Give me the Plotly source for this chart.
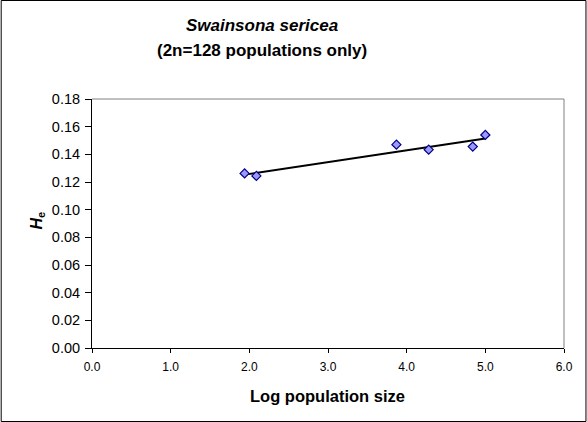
import numpy as np
import plotly.graph_objects as go

# Data
log_pop_size = [1.94, 2.09, 3.87, 4.28, 4.84, 5.00]
he_values = [0.1262, 0.1244, 0.1470, 0.1434, 0.1456, 0.1540]
x_ticks = [0, 1, 2, 3, 4, 5, 6]
x_tick_labels = ["0.0", "1.0", "2.0", "3.0", "4.0", "5.0", "6.0"]
y_ticks = [0.00, 0.02, 0.04, 0.06, 0.08, 0.10, 0.12, 0.14, 0.16, 0.18]
y_tick_labels = ["0.00", "0.02", "0.04", "0.06", "0.08", "0.10", "0.12", "0.14", "0.16", "0.18"]

W, H = 587, 422
L, R, T, B = 91.5, 22.5, 99, 74
pw, ph = W - L - R, H - T - B

# Linear trendline (least squares)
slope, intercept = np.polyfit(log_pop_size, he_values, 1)
tx = np.array([min(log_pop_size), max(log_pop_size)])
ty = slope * tx + intercept

fig = go.Figure()
fig.add_trace(go.Scatter(x=tx, y=ty, mode="lines",
                         line=dict(color="black", width=2), showlegend=False,
                         hoverinfo="skip"))
fig.add_trace(go.Scatter(x=log_pop_size, y=he_values, mode="markers",
                         marker=dict(symbol="diamond", size=7, color="#9999FF",
                                     line=dict(color="#000080", width=1.2)),
                         showlegend=False))

font = "Liberation Sans, Arial, sans-serif"

def px(xpix):
    return (xpix - L) / pw

def py(ypix):
    return 1 - (ypix - T) / ph

fig.update_layout(
    width=W, height=H,
    margin=dict(l=L, r=R, t=T, b=B, pad=0),
    paper_bgcolor="white", plot_bgcolor="white",
    font=dict(family=font, color="black"),
    xaxis=dict(range=[0, 6], tickvals=x_ticks, ticktext=x_tick_labels,
               showgrid=False, zeroline=False, showline=True, linecolor="black",
               linewidth=1, ticks="outside", ticklen=4, tickcolor="black",
               tickfont=dict(size=12, family=font), mirror=False,
               ticklabelstandoff=4),
    yaxis=dict(range=[0, 0.18], tickvals=y_ticks, ticktext=y_tick_labels,
               showgrid=False, zeroline=False, showline=True, linecolor="black",
               linewidth=1, ticks="outside", ticklen=6, tickcolor="black",
               tickfont=dict(size=14.5, family=font), ticklabelstandoff=2),
    shapes=[
        # grey plot-area border (top & right)
        dict(type="line", xref="paper", yref="paper", x0=0, x1=1, y0=1, y1=1,
             line=dict(color="#808080", width=1)),
        dict(type="line", xref="paper", yref="paper", x0=1, x1=1, y0=0, y1=1,
             line=dict(color="#808080", width=1)),
        # chart outer frame
        dict(type="rect", xref="paper", yref="paper",
             x0=px(0.5), x1=px(W - 0.5), y0=py(H - 0.5), y1=py(0.5),
             line=dict(color="black", width=1), layer="above"),
    ],
    annotations=[
        dict(text="<b><i>Swainsona sericea</i></b>", xref="paper", yref="paper",
             x=px(262), y=py(25), showarrow=False, font=dict(size=17, family=font),
             xanchor="center", yanchor="middle"),
        dict(text="<b>(2n=128 populations only)</b>", xref="paper", yref="paper",
             x=px(262), y=py(50), showarrow=False, font=dict(size=17, family=font),
             xanchor="center", yanchor="middle"),
        dict(text="<b>Log population size</b>", xref="paper", yref="paper",
             x=px(327), y=py(396), showarrow=False, font=dict(size=16.5, family=font),
             xanchor="center", yanchor="middle"),
        dict(text="<b><i>H</i></b><b><sub>e</sub></b>", xref="paper", yref="paper",
             x=px(36), y=py(221), showarrow=False, font=dict(size=16, family=font),
             textangle=-90, xanchor="center", yanchor="middle"),
    ],
)

fig.write_html("out.html")
